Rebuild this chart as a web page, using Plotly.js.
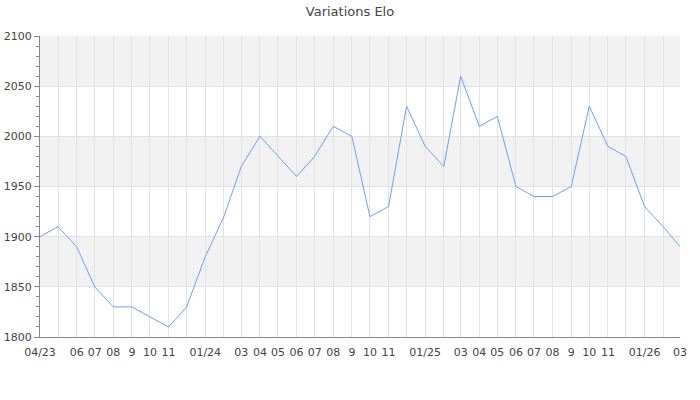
<!DOCTYPE html>
<html>
<head>
<meta charset="utf-8">
<script src="https://cdn.plot.ly/plotly-3.0.1.min.js"></script>
<style>html,body{margin:0;padding:0;background:#fff;}#chart{width:700px;height:400px;}</style>
</head>
<body>
<div id="chart"></div>
<script>
const months = ["2023-04-01","2023-05-01","2023-06-01","2023-07-01","2023-08-01","2023-09-01","2023-10-01","2023-11-01","2023-12-01",
"2024-01-01","2024-02-01","2024-03-01","2024-04-01","2024-05-01","2024-06-01","2024-07-01","2024-08-01","2024-09-01","2024-10-01","2024-11-01","2024-12-01",
"2025-01-01","2025-02-01","2025-03-01","2025-04-01","2025-05-01","2025-06-01","2025-07-01","2025-08-01","2025-09-01","2025-10-01","2025-11-01","2025-12-01",
"2026-01-01","2026-02-01","2026-03-01"];
const elo = [1900,1910,1890,1850,1830,1830,1820,1810,1830,
1880,1920,1970,2000,1980,1960,1980,2010,2000,1920,1930,2030,
1990,1970,2060,2010,2020,1950,1940,1940,1950,2030,1990,1980,
1930,1910,1890];
const tickLabels = ["04/23","","06","07","08","9","10","11","",
"01/24","","03","04","05","06","07","08","9","10","11","",
"01/25","","03","04","05","06","07","08","9","10","11","",
"01/26","","03"];
const bands = [[1850,1900],[1950,2000],[2050,2100]];

const shapes = bands.map(b => ({
  type:'rect', xref:'paper', yref:'y', x0:0, x1:1, y0:b[0], y1:b[1],
  fillcolor:'#f2f2f2', line:{width:0}, layer:'below'
}));

const trace = {
  x: months, y: elo, type:'scatter', mode:'lines',
  line:{color:'#6e9ef2', width:1}, hoverinfo:'x+y'
};

const layout = {
  width:700, height:400,
  margin:{l:40, r:20, t:36, b:63},
  paper_bgcolor:'#fff', plot_bgcolor:'rgba(0,0,0,0)',
  font:{family:'DejaVu Sans, sans-serif', size:11, color:'#444'},
  title:{text:'Variations Elo', x:0.5, xanchor:'center', y:0.982, yanchor:'top', font:{size:13, color:'#444'}},
  showlegend:false,
  shapes: shapes,
  xaxis:{
    type:'date', range:[months[0], months[months.length-1]],
    tickmode:'array', tickvals: months, ticktext: tickLabels,
    showgrid:true, gridcolor:'#e2e2e2', gridwidth:1,
    showline:true, linecolor:'#888', linewidth:1,
    ticks:'', zeroline:false, tickangle:0, ticklabelstandoff:5,
    tickfont:{size:11, color:'#444'}
  },
  yaxis:{
    range:[1800,2100], tickmode:'linear', tick0:1800, dtick:50,
    showgrid:true, gridcolor:'#e2e2e2', gridwidth:1,
    showline:true, linecolor:'#888', linewidth:1,
    ticks:'outside', ticklen:5, tickcolor:'#888',
    minor:{dtick:10, tick0:1800, ticks:'outside', ticklen:3, tickcolor:'#888', showgrid:false},
    zeroline:false, tickfont:{size:11, color:'#444'}
  }
};

Plotly.newPlot('chart', [trace], layout, {displayModeBar:false, staticPlot:true});
</script>
</body>
</html>
